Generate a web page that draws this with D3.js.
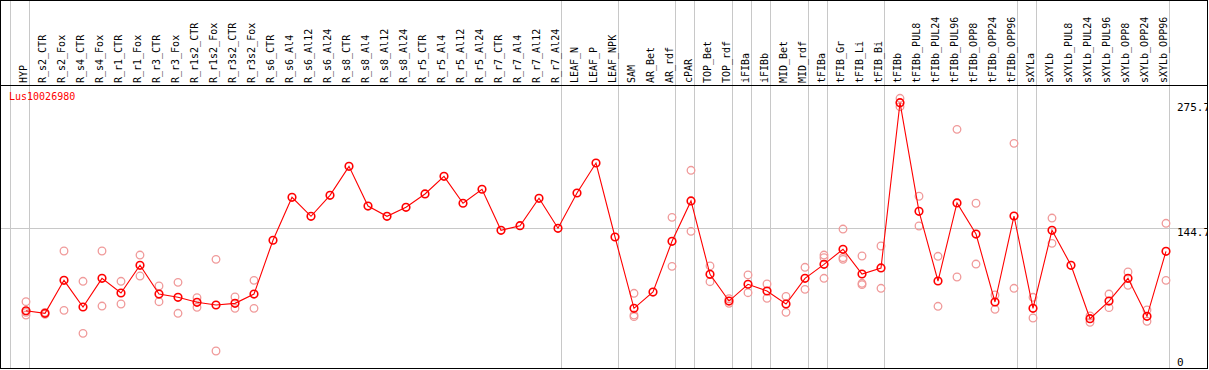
<!DOCTYPE html>
<html>
<head>
<meta charset="utf-8">
<script src="https://cdn.jsdelivr.net/npm/d3@7"></script>
<style>
  html, body { margin: 0; padding: 0; background: #fff; }
  svg { display: block; }
  text { font-family: "DejaVu Sans Mono", "Liberation Mono", monospace; }
</style>
</head>
<body>
<svg id="chart" width="1209" height="370"></svg>
<script>
const geneName = "Lus10026980";

const categories = [
  "HYP",
  "R_s2_CTR","R_s2_Fox","R_s4_CTR","R_s4_Fox","R_r1_CTR","R_r1_Fox","R_r3_CTR","R_r3_Fox",
  "R_r1s2_CTR","R_r1s2_Fox","R_r3s2_CTR","R_r3s2_Fox","R_s6_CTR","R_s6_Al4","R_s6_Al12","R_s6_Al24",
  "R_s8_CTR","R_s8_Al4","R_s8_Al12","R_s8_Al24","R_r5_CTR","R_r5_Al4","R_r5_Al12","R_r5_Al24",
  "R_r7_CTR","R_r7_Al4","R_r7_Al12","R_r7_Al24",
  "LEAF_N","LEAF_P","LEAF_NPK",
  "SAM","AR_Bet","AR_rdf",
  "cPAR",
  "TOP_Bet","TOP_rdf",
  "iFIBa",
  "iFIBb",
  "MID_Bet","MID_rdf",
  "tFIBa",
  "tFIB_Gr","tFIB_Li","tFIB_Bi",
  "tFIBb","tFIBb_PUL8","tFIBb_PUL24","tFIBb_PUL96","tFIBb_OPP8","tFIBb_OPP24","tFIBb_OPP96",
  "sXYLa",
  "sXYLb","sXYLb_PUL8","sXYLb_PUL24","sXYLb_PUL96","sXYLb_OPP8","sXYLb_OPP24","sXYLb_OPP96"
];

const meanValues = [
  58.7,
  56.0, 90.4, 62.6, 92.5, 77.2, 106.1, 76.1, 72.7,
  67.5, 64.7, 66.4, 76.1, 132.2, 177.0, 157.2, 179.1,
  209.3, 167.9, 157.2, 166.6, 180.5, 198.9, 170.8, 185.4,
  142.6, 147.4, 176.0, 144.7,
  181.5, 212.8, 135.6,
  61.2, 78.2, 131.1,
  173.2,
  96.7, 68.8,
  86.3,
  79.3,
  65.7, 92.5,
  107.1,
  122.8, 97.0, 103.3,
  275.7, 162.4, 89.7, 171.1, 138.7, 67.8, 157.5,
  61.2,
  142.6, 106.1, 50.4, 68.8, 92.5, 52.9, 120.7
];

const replicateValues = [
  [68.1, 57.0, 54.2],
  [57.0, 55.0], [121.0, 59.1], [89.4, 35.1], [121.0, 63.6], [89.4, 65.7], [116.8, 94.9], [84.5, 68.1], [88.3, 56.0],
  [72.3, 62.3], [112.3, 16.7], [73.0, 61.2], [90.4, 61.2], [], [], [], [],
  [], [], [], [], [], [], [], [],
  [], [], [], [],
  [], [], [],
  [76.9, 54.2, 52.5], [], [156.1, 105.0],
  [205.2, 141.5],
  [105.4, 89.0], [71.2, 66.4],
  [96.0, 77.5],
  [86.6, 71.7],
  [73.7, 57.0], [104.0, 81.0],
  [116.8, 114.0, 92.5],
  [143.9, 114.0, 112.3], [115.8, 87.3, 85.9], [126.2, 82.1],
  [280.3, 271.5], [178.1, 147.1], [115.5, 63.3], [247.9, 93.9], [170.8, 107.4], [75.1, 60.2], [233.3, 82.1],
  [72.7, 51.1],
  [155.4, 129.0], [], [53.2, 46.6], [76.1, 61.9], [99.1, 85.2], [59.5, 47.7], [149.9, 90.4]
];

const groupStarts = ["R_s2_CTR","LEAF_N","SAM","cPAR","TOP_Bet","iFIBa","iFIBb","MID_Bet","tFIBa","tFIB_Gr","tFIBb","sXYLa","sXYLb"];

const axisTicks = [0, 144.7, 275.7];
const midLineValue = 144.7;

// ---------- layout ----------
const W = 1209, H = 370;
const headerBottom = 85;
const plotBottom = 368;
const colW = 19;
const colStart = 11;
const colEnd = colStart + colW * categories.length; // 1170

const svg = d3.select("#chart");

const x = d3.scaleBand()
  .domain(categories)
  .range([colStart, colEnd])
  .paddingInner(0).paddingOuter(0);
const px = c => x(c) + 15;

const y = d3.scaleLinear()
  .domain([0, d3.max(meanValues)])
  .range([367, 102.7]);

const gridColor = "#c8c8c8";

// vertical group lines (full height)
svg.append("line")
  .attr("x1", 10.5).attr("x2", 10.5).attr("y1", 0).attr("y2", plotBottom)
  .attr("stroke", gridColor).attr("stroke-width", 1);
svg.selectAll("line.group")
  .data(groupStarts.map(g => x(g)).concat([colEnd]))
  .enter().append("line")
  .attr("class", "group")
  .attr("x1", d => Math.round(d) - 0.5).attr("x2", d => Math.round(d) - 0.5)
  .attr("y1", 0).attr("y2", plotBottom)
  .attr("stroke", gridColor).attr("stroke-width", 1);

// horizontal mid line
svg.append("line")
  .attr("x1", 0).attr("x2", W)
  .attr("y1", Math.round(y(midLineValue)) + 0.5).attr("y2", Math.round(y(midLineValue)) + 0.5)
  .attr("stroke", gridColor).attr("stroke-width", 1);

// header separator
svg.append("line")
  .attr("x1", 0).attr("x2", W)
  .attr("y1", headerBottom + 0.5).attr("y2", headerBottom + 0.5)
  .attr("stroke", "#000").attr("stroke-width", 1);

// outer frame
svg.append("rect")
  .attr("x", 0.5).attr("y", 0.5).attr("width", 1207).attr("height", plotBottom)
  .attr("fill", "none").attr("stroke", "#000").attr("stroke-width", 1);

// category labels (rotated)
svg.selectAll("text.cat")
  .data(categories)
  .enter().append("text")
  .attr("class", "cat")
  .attr("transform", d => `translate(${px(d) + 0.5},83) rotate(-90)`)
  .attr("font-size", 10)
  .attr("fill", "#000")
  .text(d => d);

// gene name
svg.append("text")
  .attr("x", 9).attr("y", 100)
  .attr("font-size", 10)
  .attr("fill", "#ff0000")
  .text(geneName);

// right axis labels
svg.selectAll("text.tick")
  .data(axisTicks)
  .enter().append("text")
  .attr("class", "tick")
  .attr("x", 1177)
  .attr("y", d => d === 0 ? 366 : y(d) + 8)
  .attr("font-size", 11)
  .attr("fill", "#000")
  .text(d => d);

// replicate points
const reps = [];
categories.forEach((c, i) => replicateValues[i].forEach(v => reps.push({c, v})));
svg.selectAll("circle.rep")
  .data(reps)
  .enter().append("circle")
  .attr("class", "rep")
  .attr("cx", d => px(d.c))
  .attr("cy", d => y(d.v))
  .attr("r", 3.8)
  .attr("fill", "none")
  .attr("stroke", "#f09a9a")
  .attr("stroke-width", 1.3);

// mean line
const line = d3.line()
  .x((d, i) => px(categories[i]))
  .y(d => y(d));
svg.append("path")
  .datum(meanValues)
  .attr("d", line)
  .attr("fill", "none")
  .attr("stroke", "#ff0000")
  .attr("stroke-width", 1.1);

// mean points
svg.selectAll("circle.mean")
  .data(meanValues)
  .enter().append("circle")
  .attr("class", "mean")
  .attr("cx", (d, i) => px(categories[i]))
  .attr("cy", d => y(d))
  .attr("r", 3.8)
  .attr("fill", "none")
  .attr("stroke", "#ff0000")
  .attr("stroke-width", 1.6);

// clip right border text (redraw right frame edge on top)
svg.append("line")
  .attr("x1", 1207.5).attr("x2", 1207.5).attr("y1", 0).attr("y2", plotBottom + 0.5)
  .attr("stroke", "#000").attr("stroke-width", 1);
svg.append("rect")
  .attr("x", 1208).attr("y", 0).attr("width", 1).attr("height", H)
  .attr("fill", "#fff");
</script>
</body>
</html>
